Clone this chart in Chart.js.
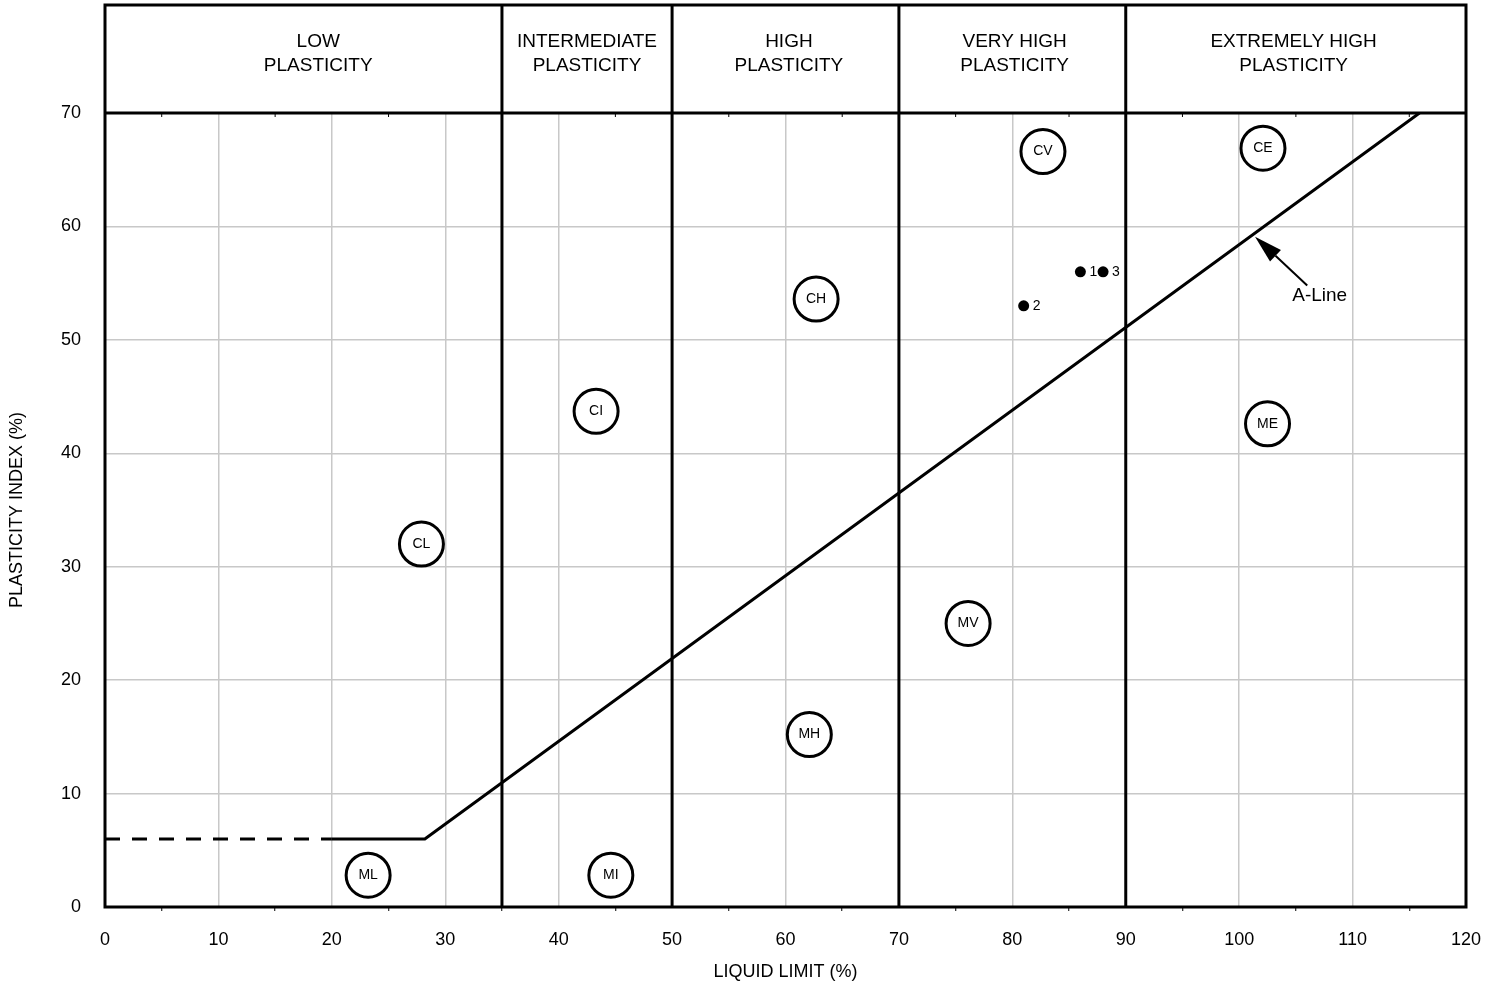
<!DOCTYPE html>
<html>
<head>
<meta charset="utf-8">
<title>Plasticity chart</title>
<script src="https://cdn.jsdelivr.net/npm/chart.js@4.4.1/dist/chart.umd.min.js"></script>
<style>
  body { margin: 0; background: #fff; }
  #wrap { width: 1486px; height: 986px; }
</style>
</head>
<body>
<div id="wrap"><canvas id="chart"></canvas></div>
<script>
// plasticity bands along the liquid limit axis
var bandEdges = [35, 50, 70, 90];
var bandNames = [['LOW', 'PLASTICITY'], ['INTERMEDIATE', 'PLASTICITY'], ['HIGH', 'PLASTICITY'],
                 ['VERY HIGH', 'PLASTICITY'], ['EXTREMELY HIGH', 'PLASTICITY']];
var bandNameX = [18.8, 42.5, 60.3, 80.2, 104.8];

// A-line
var aLineDashX = [0, 20];
var aLineDashY = [6, 6];
var aLineX = [20, 28.2, 115.9];
var aLineY = [6, 6, 70];

// soil zone markers
var zoneLabels = ['CL', 'ML', 'CI', 'MI', 'CH', 'MH', 'CV', 'MV', 'CE', 'ME'];
var zoneLL = [27.9, 23.2, 43.3, 44.6, 62.7, 62.1, 82.7, 76.1, 102.1, 102.5];
var zonePI = [32.0, 2.8, 43.7, 2.8, 53.6, 15.2, 66.6, 25.0, 66.9, 42.6];

// samples
var sampleLabels = ['1', '2', '3'];
var sampleLL = [86, 81, 88];
var samplePI = [56, 53, 56];

// A-Line callout (arrow tail, tip, text)
var calloutTail = [106.0, 54.8];
var calloutTip = [101.4, 59.1];
var calloutText = [107.1, 53.9];

var xTicks = { min: 0, max: 120, step: 5 };
var yTicks = { min: 0, max: 70, step: 10 };

function pts(xs, ys) {
    return xs.map(function (v, i) { return { x: v, y: ys[i] }; });
}

var headerHeight = 108;
var font = "'Liberation Sans', Arial, sans-serif";
Chart.defaults.font.family = font;
Chart.defaults.color = '#000';

var decor = {
    id: 'decor',
    beforeDatasetsDraw: function (chart) {
        var ctx = chart.ctx, a = chart.chartArea, x = chart.scales.x;
        var top = a.top - headerHeight;
        ctx.save();
        ctx.strokeStyle = '#000';
        // small ticks under the top edge
        ctx.lineWidth = 1;
        for (var v = 5; v < 120; v += 10) {
            var px = x.getPixelForValue(v);
            ctx.beginPath(); ctx.moveTo(px, a.top); ctx.lineTo(px, a.top + 4); ctx.stroke();
        }
        ctx.lineWidth = 3;
        bandEdges.forEach(function (b) {
            var px = x.getPixelForValue(b);
            ctx.beginPath(); ctx.moveTo(px, top); ctx.lineTo(px, a.bottom); ctx.stroke();
        });
        ctx.beginPath(); ctx.moveTo(a.left, a.top); ctx.lineTo(a.right, a.top); ctx.stroke();
        ctx.strokeRect(a.left, top, a.right - a.left, a.bottom - top);
        // band names
        ctx.fillStyle = '#000';
        ctx.font = '19px ' + font;
        ctx.textAlign = 'center';
        ctx.textBaseline = 'middle';
        bandNames.forEach(function (lines, i) {
            var px = x.getPixelForValue(bandNameX[i]);
            ctx.fillText(lines[0], px, top + 37);
            ctx.fillText(lines[1], px, top + 61);
        });
        ctx.restore();
    },
    afterDatasetsDraw: function (chart) {
        var ctx = chart.ctx, x = chart.scales.x, y = chart.scales.y;
        ctx.save();
        ctx.fillStyle = '#000';
        ctx.textBaseline = 'middle';
        ctx.textAlign = 'center';
        ctx.font = '14px ' + font;
        chart.getDatasetMeta(2).data.forEach(function (el, i) {
            ctx.fillText(zoneLabels[i], el.x, el.y);
        });
        ctx.textAlign = 'left';
        chart.getDatasetMeta(3).data.forEach(function (el, i) {
            ctx.fillText(sampleLabels[i], el.x + 9, el.y);
        });
        // callout arrow
        var tx = x.getPixelForValue(calloutTail[0]), ty = y.getPixelForValue(calloutTail[1]);
        var hx = x.getPixelForValue(calloutTip[0]), hy = y.getPixelForValue(calloutTip[1]);
        var ang = Math.atan2(hy - ty, hx - tx);
        var len = 28, half = 8;
        var bx = hx - len * Math.cos(ang), by = hy - len * Math.sin(ang);
        ctx.strokeStyle = '#000';
        ctx.lineWidth = 2;
        ctx.beginPath(); ctx.moveTo(tx, ty); ctx.lineTo(bx, by); ctx.stroke();
        ctx.beginPath();
        ctx.moveTo(hx, hy);
        ctx.lineTo(bx + half * Math.sin(ang), by - half * Math.cos(ang));
        ctx.lineTo(bx - half * Math.sin(ang), by + half * Math.cos(ang));
        ctx.closePath(); ctx.fill();
        ctx.textAlign = 'center';
        ctx.font = '19px ' + font;
        ctx.fillText('A-Line', x.getPixelForValue(calloutText[0]), y.getPixelForValue(calloutText[1]));
        ctx.restore();
    }
};

var ctx = document.getElementById('chart').getContext('2d');
var chart = new Chart(ctx, {
    type: 'scatter',
    data: {
        datasets: [{
            data: pts(aLineDashX, aLineDashY),
            showLine: true,
            borderColor: '#000',
            borderWidth: 3,
            borderDash: [15, 12],
            pointRadius: 0
        }, {
            data: pts(aLineX, aLineY),
            showLine: true,
            borderColor: '#000',
            borderWidth: 3,
            pointRadius: 0
        }, {
            data: pts(zoneLL, zonePI),
            pointRadius: 22,
            pointBorderWidth: 3,
            pointBorderColor: '#000',
            pointBackgroundColor: '#fff'
        }, {
            data: pts(sampleLL, samplePI),
            pointRadius: 5.5,
            pointBorderWidth: 0,
            pointBackgroundColor: '#000'
        }]
    },
    options: {
        responsive: true,
        maintainAspectRatio: false,
        animation: false,
        layout: { autoPadding: false, padding: { top: 113, right: 20, left: 0, bottom: 0 } },
        plugins: { legend: { display: false }, tooltip: { enabled: false } },
        scales: {
            x: {
                type: 'linear',
                min: xTicks.min, max: xTicks.max,
                afterFit: function (s) { s.height = 79; s.paddingLeft = 0; s.paddingRight = 0; },
                ticks: {
                    stepSize: xTicks.step,
                    padding: 18,
                    font: { size: 18 },
                    maxRotation: 0,
                    autoSkip: false,
                    callback: function (v) { return v % 10 === 0 ? v : ''; }
                },
                grid: {
                    lineWidth: 1.5,
                    tickLength: 4,
                    color: function (c) { return c.tick && c.tick.value % 10 === 0 ? '#c8c8c8' : 'rgba(0,0,0,0)'; },
                    tickColor: function (c) { return c.tick && c.tick.value % 10 !== 0 ? '#000' : 'rgba(0,0,0,0)'; },
                    tickWidth: 1
                },
                border: { display: false },
                title: { display: true, text: 'LIQUID LIMIT (%)', font: { size: 18 }, padding: { top: 4, bottom: 3 } }
            },
            y: {
                type: 'linear',
                min: yTicks.min, max: yTicks.max,
                afterFit: function (s) { s.width = 105; s.paddingTop = 0; s.paddingBottom = 0; },
                ticks: { stepSize: yTicks.step, padding: 24, font: { size: 18 } },
                grid: { lineWidth: 1.5, color: '#c8c8c8', drawTicks: false },
                border: { display: false },
                title: { display: true, text: 'PLASTICITY INDEX (%)', font: { size: 18 }, padding: { top: 6, bottom: 4 } }
            }
        }
    },
    plugins: [decor]
});
</script>
</body>
</html>
